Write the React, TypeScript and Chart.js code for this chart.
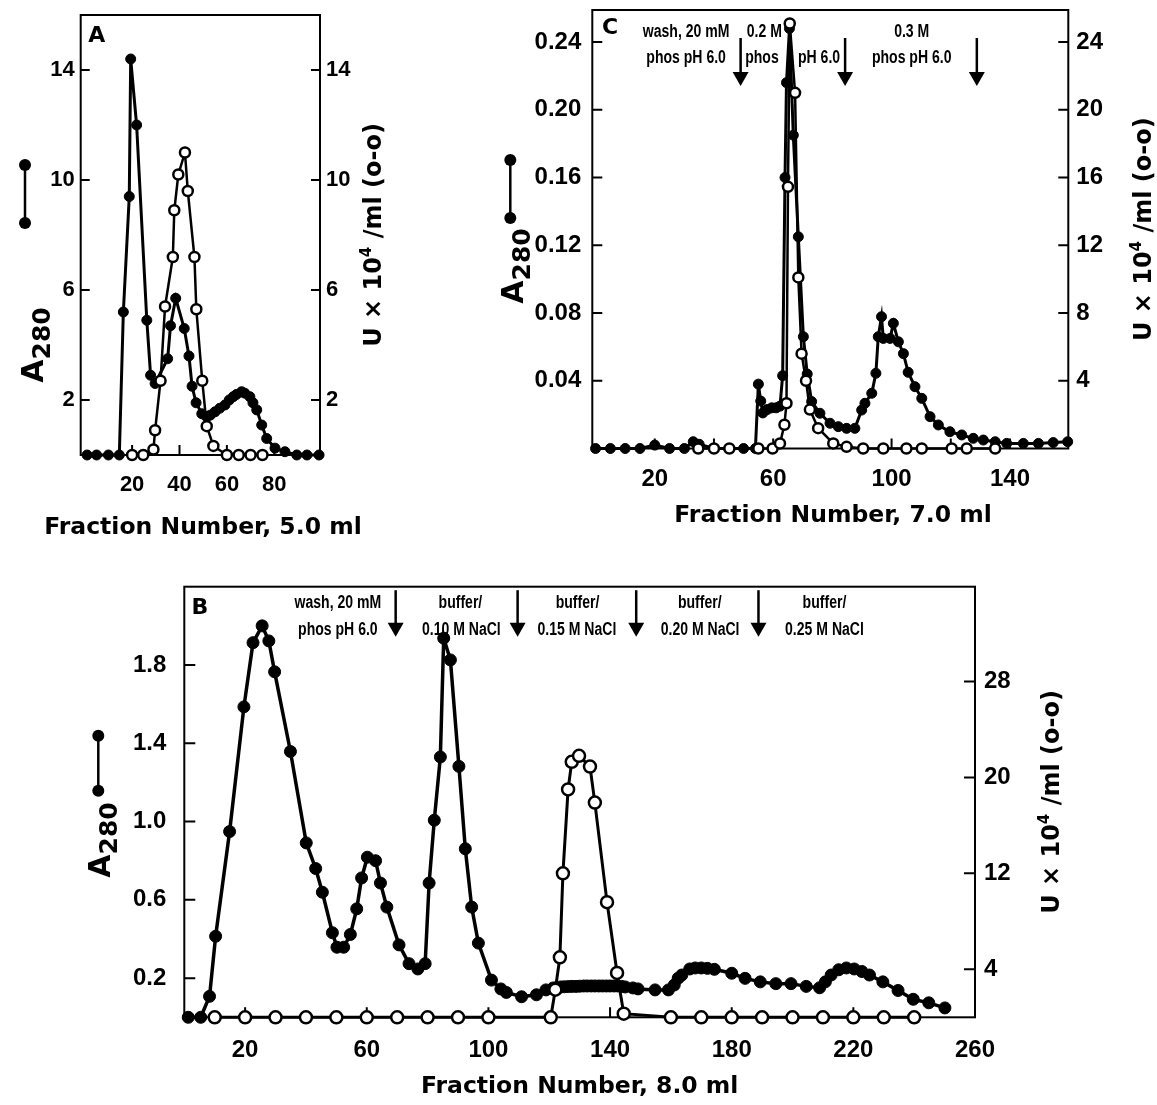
import React, { useEffect, useRef } from "react";
import { Chart, registerables } from "chart.js";

Chart.register(...registerables);

// ---------------- Panel A (fraction number, value) ----------------
const aA280: [number, number][] = [
  [1, 0], [5, 0], [10, 0], [14.6, 0], [16.3, 5.2], [18.8, 9.4], [19.4, 14.4], [21.9, 12.0],
  [26.2, 4.9], [27.8, 2.9], [29.7, 2.6], [35, 3.5], [36.2, 4.7], [38.4, 5.7], [42, 4.6],
  [44, 3.6], [45.3, 2.5], [47, 1.9], [49.4, 1.5], [51.5, 1.39], [53, 1.45], [55, 1.57],
  [57, 1.7], [59.2, 1.82], [61, 2.0], [62.7, 2.12], [64, 2.2], [66.2, 2.3], [67.5, 2.25],
  [69.7, 2.12], [71, 1.9], [72.6, 1.64], [74.7, 1.09], [76.8, 0.6], [80.3, 0.25], [84.5, 0.12],
  [89.5, 0], [93.8, 0], [98.9, 0],
];
const aActivity: [number, number][] = [
  [20, 0], [24.7, 0], [29, 0.2], [29.7, 0.9], [32, 2.7], [33.9, 5.4], [37.2, 7.2], [37.8, 8.9],
  [39.5, 10.2], [42.3, 11.0], [43.5, 9.6], [46.3, 7.2], [47.1, 5.3], [49.6, 2.7], [51.5, 1.05],
  [54.3, 0.33], [60, 0], [65, 0], [70, 0], [75, 0],
];
const aXLabels = [20, 40, 60, 80];
const aLeftTicks = [2, 6, 10, 14];
const aRightTicks = [2, 6, 10, 14];

// ---------------- Panel C ----------------
const cA280: [number, number][] = [
  [0, 0], [5, 0], [10, 0], [15, 0], [20, 0.002], [25, 0], [30, 0], [33, 0.004], [35, 0.0025],
  [40, 0], [45, 0], [50, 0], [54, 0], [55, 0.038], [55.8, 0.028], [56.5, 0.021], [58, 0.023],
  [59.5, 0.024], [61, 0.024], [62.3, 0.025], [63.2, 0.043], [64, 0.16], [64.5, 0.216],
  [65.5, 0.248], [66.8, 0.185], [68.5, 0.125], [70.2, 0.066], [71.5, 0.044], [73, 0.0277],
  [75.8, 0.0208], [79.2, 0.0149], [82, 0.0129], [84.8, 0.0119], [87.6, 0.0119], [89.9, 0.0227],
  [91, 0.0267], [93.3, 0.0326], [94.7, 0.0444], [95.5, 0.066], [96.6, 0.0778], [97.2, 0.065],
  [99.5, 0.065], [100.6, 0.0739], [102.3, 0.063], [104, 0.056], [105.6, 0.045], [107.9, 0.0365],
  [110.2, 0.0296], [113, 0.0188], [115.8, 0.0139], [119.7, 0.0099], [123.7, 0.008],
  [127.6, 0.006], [131, 0.005], [135, 0.004], [138.9, 0.003], [144.5, 0.003], [149.6, 0.003],
  [154.6, 0.0035], [159.5, 0.004],
];
const cActivity: [number, number][] = [
  [34.7, 0], [40, 0], [45.2, 0], [55, 0], [59.8, 0], [62.3, 0.3], [63.8, 1.4], [64.5, 2.67],
  [65, 15.45], [65.6, 25.1], [67.4, 21], [68.5, 10.1], [69.6, 5.6], [71.1, 4.0], [72.4, 2.3],
  [75.2, 1.2], [80.3, 0.3], [84.8, 0.1], [90.4, 0], [97.2, 0], [105, 0], [110.2, 0], [120.3, 0],
  [125.4, 0], [135, 0],
];
const cXLabels = [20, 60, 100, 140];
const cXTickMarks = [20, 40, 60, 80, 100, 120, 140];
const cLeftTicks = [0.04, 0.08, 0.12, 0.16, 0.2, 0.24];
const cRightTicks = [4, 8, 12, 16, 20, 24];
const cArrows = [49, 84.3, 128.8];
const cNotes = [
  { text: "wash, 20 mM", x: 30.6, line: 1 },
  { text: "phos pH 6.0", x: 30.6, line: 2 },
  { text: "0.2 M", x: 57, line: 1 },
  { text: "phos", x: 56.2, line: 2 },
  { text: "pH 6.0", x: 75.5, line: 2 },
  { text: "0.3 M", x: 106.8, line: 1 },
  { text: "phos pH 6.0", x: 106.8, line: 2 },
];

// ---------------- Panel B ----------------
const bA280: [number, number][] = [
  [1.3, 0], [5.4, 0], [8.3, 0.107], [10.3, 0.414], [14.9, 0.949], [19.6, 1.586], [22.6, 1.914],
  [25.6, 2.0], [27.8, 1.923], [29.7, 1.765], [34.9, 1.358], [40.1, 0.891], [43.2, 0.76],
  [45.4, 0.639], [48.7, 0.432], [50.2, 0.358], [52.4, 0.358], [54.6, 0.423], [56.7, 0.554],
  [58.3, 0.712], [60.2, 0.818], [62.9, 0.8], [64.5, 0.686], [66.6, 0.563], [70.6, 0.37],
  [73.9, 0.274], [76.8, 0.247], [79.2, 0.274], [80.5, 0.686], [82.2, 1.007], [84.2, 1.33],
  [85.3, 1.937], [87.5, 1.826], [90.3, 1.282], [92.4, 0.861], [94.5, 0.563], [96.7, 0.379],
  [101, 0.19], [104.1, 0.145], [105.9, 0.127], [110.9, 0.105], [115.8, 0.115], [118.9, 0.14],
  [121.3, 0.15], [122.5, 0.152], [123.8, 0.155], [125, 0.156], [126.3, 0.157], [127.5, 0.158],
  [128.8, 0.158], [130, 0.159], [131.3, 0.16], [132.5, 0.16], [133.8, 0.16], [135, 0.16],
  [136.3, 0.16], [137.5, 0.16], [138.8, 0.16], [140, 0.16], [141.3, 0.16], [142.5, 0.16],
  [143.8, 0.158], [145, 0.155], [147.5, 0.15], [149.2, 0.145], [154.8, 0.14], [159.2, 0.14],
  [161.1, 0.165], [162.4, 0.2], [163.6, 0.216], [166.2, 0.247], [168, 0.252], [170, 0.252],
  [172, 0.25], [174.3, 0.245], [180, 0.225], [184.4, 0.199], [189.4, 0.181], [194.5, 0.172],
  [199.5, 0.172], [204.5, 0.158], [208.9, 0.151], [210.8, 0.181], [212.7, 0.216],
  [215.2, 0.243], [217.7, 0.252], [220.3, 0.247], [222.8, 0.234], [225.3, 0.216],
  [229.7, 0.181], [234.7, 0.137], [239.7, 0.092], [244.8, 0.074], [250.1, 0.048],
];
const bActivity: [number, number][] = [
  [10, 0], [20, 0], [30, 0], [40, 0], [50, 0], [60, 0], [70, 0], [80, 0], [90, 0], [100, 0],
  [120.5, 0], [122, 2.3], [123.5, 5.0], [124.5, 12], [126.2, 19], [127.4, 21.3], [129.8, 21.8],
  [133.4, 20.9], [135, 17.9], [139, 9.6], [142.3, 3.7], [144.5, 0.3], [160, 0], [170, 0],
  [180, 0], [190, 0], [200, 0], [210, 0], [220, 0], [230, 0], [240, 0],
];
const bXLabels = [20, 60, 100, 140, 180, 220, 260];
const bLeftTicks = [0.2, 0.6, 1.0, 1.4, 1.8];
const bRightTicks = [4, 12, 20, 28];
const bArrows = [69.5, 109.6, 148.6, 188.8];
const bNotes = [
  { text: "wash, 20 mM", x: 50.5, line: 1 },
  { text: "phos pH 6.0", x: 50.5, line: 2 },
  { text: "buffer/", x: 90.8, line: 1 },
  { text: "0.10 M NaCl", x: 91.1, line: 2 },
  { text: "buffer/", x: 129.3, line: 1 },
  { text: "0.15 M NaCl", x: 129.1, line: 2 },
  { text: "buffer/", x: 169.5, line: 1 },
  { text: "0.20 M NaCl", x: 169.6, line: 2 },
  { text: "buffer/", x: 210.5, line: 1 },
  { text: "0.25 M NaCl", x: 210.5, line: 2 },
];

// ---------------- layout / style ----------------
const TITLE_FONT = '"DejaVu Sans", "Liberation Sans", sans-serif';
const TICK_FONT = '"Liberation Sans", Arial, sans-serif';

type Note = { text: string; x: number; line: number };
type Spec = {
  letter: string;
  canvas: { left: number; top: number; w: number; h: number };
  area: { left: number; top: number; right: number; bottom: number };
  xRange: [number, number];
  yRange: [number, number];
  y2Range: [number, number];
  filled: [number, number][];
  open: [number, number][];
  xLabels: number[];
  xTickMarks: number[];
  leftTicks: number[];
  rightTicks: number[];
  leftDigits: number;
  tickSize: number;
  padX: number;
  padL: number;
  padR: number;
  tickLen: number;
  r: number;
  lw: number;
  xTitle: string;
  letterPos: [number, number];
  xTitleOff: [number, number];
  leftTitle: [number, number];
  legend: [number, number, number];
  rightTitleDx: number;
  notes: Note[];
  noteBase: [number, number];
  arrows: number[];
  arrowY: [number, number];
};

const panelA: Spec = {
  letter: "A",
  canvas: { left: 0, top: 0, w: 400, h: 545 },
  area: { left: 80.7, top: 15, right: 320, bottom: 455 },
  xRange: [-1.7, 99.3],
  yRange: [0, 16],
  y2Range: [0, 16],
  filled: aA280,
  open: aActivity,
  xLabels: aXLabels,
  xTickMarks: aXLabels,
  leftTicks: aLeftTicks,
  rightTicks: aRightTicks,
  leftDigits: 0,
  tickSize: 22,
  padX: 17,
  padL: 6,
  padR: 6,
  tickLen: 9,
  r: 5,
  lw: 3,
  xTitle: "Fraction Number, 5.0 ml",
  letterPos: [16, 21.7],
  xTitleOff: [2.6, 73],
  leftTitle: [-48.7, 330],
  legend: [-55.7, 150, 208],
  rightTitleDx: 52,
  notes: [],
  noteBase: [0, 0],
  arrows: [],
  arrowY: [0, 0],
};

const panelC: Spec = {
  letter: "C",
  canvas: { left: 460, top: 0, w: 697, h: 545 },
  area: { left: 592.3, top: 10, right: 1068.3, bottom: 448.5 },
  xRange: [-1.1, 159.7],
  yRange: [0, 0.2589],
  y2Range: [0, 25.89],
  filled: cA280,
  open: cActivity,
  xLabels: cXLabels,
  xTickMarks: cXTickMarks,
  leftTicks: cLeftTicks,
  rightTicks: cRightTicks,
  leftDigits: 2,
  tickSize: 24,
  padX: 16,
  padL: 11,
  padR: 8,
  tickLen: 10,
  r: 5,
  lw: 3,
  xTitle: "Fraction Number, 7.0 ml",
  letterPos: [17.7, 18],
  xTitleOff: [2.7, 67.5],
  leftTitle: [-80, 256],
  legend: [-82, 150, 208],
  rightTitleDx: 74,
  notes: cNotes,
  noteBase: [26.5, 52.5],
  arrows: cArrows,
  arrowY: [28, 76],
};

const panelB: Spec = {
  letter: "B",
  canvas: { left: 0, top: 560, w: 1157, h: 545 },
  area: { left: 184.3, top: 586.7, right: 975, bottom: 1017.3 },
  xRange: [0, 260],
  yRange: [0, 2.2],
  y2Range: [0, 35.9],
  filled: bA280,
  open: bActivity,
  xLabels: bXLabels,
  xTickMarks: bXLabels,
  leftTicks: bLeftTicks,
  rightTicks: bRightTicks,
  leftDigits: 1,
  tickSize: 24,
  padX: 19,
  padL: 18,
  padR: 9,
  tickLen: 11,
  r: 6,
  lw: 3.5,
  xTitle: "Fraction Number, 8.0 ml",
  letterPos: [15.7, 21.3],
  xTitleOff: [0, 69.7],
  leftTitle: [-85.3, 253.3],
  legend: [-86, 149, 204],
  rightTitleDx: 75,
  notes: bNotes,
  noteBase: [21.3, 48.3],
  arrows: bArrows,
  arrowY: [3.5, 50],
};

type Part = { t: string; size: number; dy: number };

function drawRich(ctx: CanvasRenderingContext2D, parts: Part[], cx: number, cy: number, rotate: boolean) {
  ctx.save();
  ctx.translate(cx, cy);
  if (rotate) ctx.rotate(-Math.PI / 2);
  ctx.textAlign = "left";
  ctx.textBaseline = "alphabetic";
  ctx.fillStyle = "#000";
  const widths = parts.map((p) => {
    ctx.font = `bold ${p.size}px ${TITLE_FONT}`;
    return ctx.measureText(p.t).width;
  });
  const total = widths.reduce((a, b) => a + b, 0);
  const capH = parts[0].size * 0.73;
  let x = -total / 2;
  parts.forEach((p, i) => {
    ctx.font = `bold ${p.size}px ${TITLE_FONT}`;
    ctx.fillText(p.t, x, capH / 2 + p.dy);
    x += widths[i];
  });
  ctx.restore();
}

function condensed(ctx: CanvasRenderingContext2D, text: string, cx: number, base: number) {
  ctx.save();
  ctx.font = `bold 18px ${TICK_FONT}`;
  ctx.textAlign = "center";
  ctx.textBaseline = "alphabetic";
  ctx.fillStyle = "#000";
  ctx.translate(cx, base);
  ctx.scale(0.78, 1);
  ctx.fillText(text, 0, 0);
  ctx.restore();
}

function decor(p: Spec) {
  return {
    id: "decor" + p.letter,
    beforeDatasetsDraw(chart: any) {
      const { ctx, chartArea: ca, scales } = chart;
      ctx.save();
      ctx.strokeStyle = "#000";
      ctx.lineWidth = 2;
      ctx.strokeRect(ca.left, ca.top, ca.right - ca.left, ca.bottom - ca.top);
      ctx.beginPath();
      p.xTickMarks.forEach((v) => {
        const x = scales.x.getPixelForValue(v);
        ctx.moveTo(x, ca.bottom);
        ctx.lineTo(x, ca.bottom - 10);
      });
      p.leftTicks.forEach((v) => {
        const y = scales.y.getPixelForValue(v);
        ctx.moveTo(ca.left, y);
        ctx.lineTo(ca.left + p.tickLen, y);
      });
      p.rightTicks.forEach((v) => {
        const y = scales.y2.getPixelForValue(v);
        ctx.moveTo(ca.right, y);
        ctx.lineTo(ca.right - p.tickLen, y);
      });
      ctx.stroke();
      ctx.restore();
    },
    afterDraw(chart: any) {
      const { ctx, chartArea: ca, scales } = chart;
      ctx.save();
      ctx.fillStyle = "#000";
      ctx.strokeStyle = "#000";
      // panel letter
      ctx.font = `bold 22px ${TITLE_FONT}`;
      ctx.textAlign = "center";
      ctx.textBaseline = "middle";
      ctx.fillText(p.letter, ca.left + p.letterPos[0], ca.top + p.letterPos[1]);
      // notes
      p.notes.forEach((n) => {
        const x = scales.x.getPixelForValue(n.x);
        condensed(ctx, n.text, x, ca.top + (n.line === 1 ? p.noteBase[0] : p.noteBase[1]));
      });
      // arrows
      p.arrows.forEach((v) => {
        const x = scales.x.getPixelForValue(v);
        const y1 = ca.top + p.arrowY[0];
        const y2 = ca.top + p.arrowY[1];
        ctx.lineWidth = 2.5;
        ctx.beginPath();
        ctx.moveTo(x, y1);
        ctx.lineTo(x, y2 - 10);
        ctx.stroke();
        ctx.beginPath();
        ctx.moveTo(x - 8, y2 - 14);
        ctx.lineTo(x + 8, y2 - 14);
        ctx.lineTo(x, y2);
        ctx.closePath();
        ctx.fill();
      });
      // bottom title
      ctx.font = `bold 23.5px ${TITLE_FONT}`;
      ctx.textAlign = "center";
      ctx.textBaseline = "middle";
      ctx.fillText(p.xTitle, (ca.left + ca.right) / 2 + p.xTitleOff[0], ca.bottom + p.xTitleOff[1]);
      // left title A280 (rotated)
      drawRich(
        ctx,
        [
          { t: "A", size: 30, dy: 0 },
          { t: "280", size: 25, dy: 7 },
        ],
        ca.left + p.leftTitle[0],
        ca.top + p.leftTitle[1],
        true
      );
      // legend symbol (filled circles joined)
      const lx = ca.left + p.legend[0];
      const ly1 = ca.top + p.legend[1];
      const ly2 = ca.top + p.legend[2];
      ctx.lineWidth = 2.5;
      ctx.beginPath();
      ctx.moveTo(lx, ly1);
      ctx.lineTo(lx, ly2);
      ctx.stroke();
      [ly1, ly2].forEach((y) => {
        ctx.beginPath();
        ctx.arc(lx, y, 6, 0, Math.PI * 2);
        ctx.fill();
      });
      // right title
      drawRich(
        ctx,
        [
          { t: "U × 10", size: 24, dy: 0 },
          { t: "4", size: 15, dy: -10 },
          { t: " /ml (o-o)", size: 24, dy: 0 },
        ],
        ca.right + p.rightTitleDx,
        (ca.top + ca.bottom) / 2,
        true
      );
      ctx.restore();
    },
  };
}

function buildChart(canvas: HTMLCanvasElement, p: Spec) {
  const tickFont = { family: TICK_FONT, size: p.tickSize, weight: "bold" as const };
  const setTicks = (vals: number[]) => (s: any) => {
    s.ticks = vals.map((v) => ({ value: v }));
  };
  const yW = p.area.left - p.canvas.left;
  const y2W = p.canvas.left + p.canvas.w - p.area.right;
  const xH = p.canvas.top + p.canvas.h - p.area.bottom;
  const common = {
    grid: { display: false, drawTicks: false },
    border: { display: false },
  };
  return new Chart(canvas, {
    type: "line",
    data: {
      datasets: [
        {
          data: p.open.map(([x, y]) => ({ x, y })),
          yAxisID: "y2",
          borderColor: "#000",
          borderWidth: p.lw - 0.5,
          pointRadius: p.r,
          pointBackgroundColor: "#fff",
          pointBorderColor: "#000",
          pointBorderWidth: 2.5,
          tension: 0,
          clip: false as any,
        },
        {
          data: p.filled.map(([x, y]) => ({ x, y })),
          yAxisID: "y",
          borderColor: "#000",
          borderWidth: p.lw,
          pointRadius: p.r,
          pointBackgroundColor: "#000",
          pointBorderColor: "#000",
          pointBorderWidth: 1,
          tension: 0,
          clip: false as any,
        },
      ],
    },
    options: {
      animation: false,
      responsive: false,
      maintainAspectRatio: false,
      devicePixelRatio: 1,
      events: [],
      layout: { padding: { top: p.area.top - p.canvas.top, left: 0, right: 0, bottom: 0 } },
      plugins: { legend: { display: false }, tooltip: { enabled: false } },
      scales: {
        x: {
          type: "linear",
          position: "bottom",
          min: p.xRange[0],
          max: p.xRange[1],
          ...common,
          ticks: {
            font: tickFont,
            color: "#000",
            padding: p.padX,
            maxRotation: 0,
            autoSkip: false,
            callback: (v: any) => String(v),
          },
          afterBuildTicks: setTicks(p.xLabels),
          afterFit: (s: any) => {
            s.height = xH;
            s.paddingLeft = 0;
            s.paddingRight = 0;
          },
        },
        y: {
          type: "linear",
          position: "left",
          min: p.yRange[0],
          max: p.yRange[1],
          ...common,
          ticks: {
            font: tickFont,
            color: "#000",
            padding: p.padL,
            autoSkip: false,
            callback: (v: any) => Number(v).toFixed(p.leftDigits),
          },
          afterBuildTicks: setTicks(p.leftTicks),
          afterFit: (s: any) => {
            s.width = yW;
            s.paddingTop = 0;
            s.paddingBottom = 0;
          },
        },
        y2: {
          type: "linear",
          position: "right",
          min: p.y2Range[0],
          max: p.y2Range[1],
          ...common,
          ticks: {
            font: tickFont,
            color: "#000",
            padding: p.padR,
            autoSkip: false,
            callback: (v: any) => String(v),
          },
          afterBuildTicks: setTicks(p.rightTicks),
          afterFit: (s: any) => {
            s.width = y2W;
            s.paddingTop = 0;
            s.paddingBottom = 0;
          },
        },
      },
    } as any,
    plugins: [decor(p)],
  });
}

const panels = [panelA, panelC, panelB];

export default function App() {
  const refs = [useRef<HTMLCanvasElement>(null), useRef<HTMLCanvasElement>(null), useRef<HTMLCanvasElement>(null)];
  useEffect(() => {
    const charts = panels.map((p, i) => buildChart(refs[i].current as HTMLCanvasElement, p));
    return () => charts.forEach((c) => c.destroy());
  }, []);
  return (
    <div
      style={{
        position: "absolute",
        left: 0,
        top: 0,
        width: 1157,
        height: 1105,
        background: "#fff",
        overflow: "hidden",
      }}
    >
      {panels.map((p, i) => (
        <canvas
          key={p.letter}
          ref={refs[i]}
          width={p.canvas.w}
          height={p.canvas.h}
          style={{
            position: "absolute",
            left: p.canvas.left,
            top: p.canvas.top,
            width: p.canvas.w,
            height: p.canvas.h,
          }}
        />
      ))}
    </div>
  );
}
